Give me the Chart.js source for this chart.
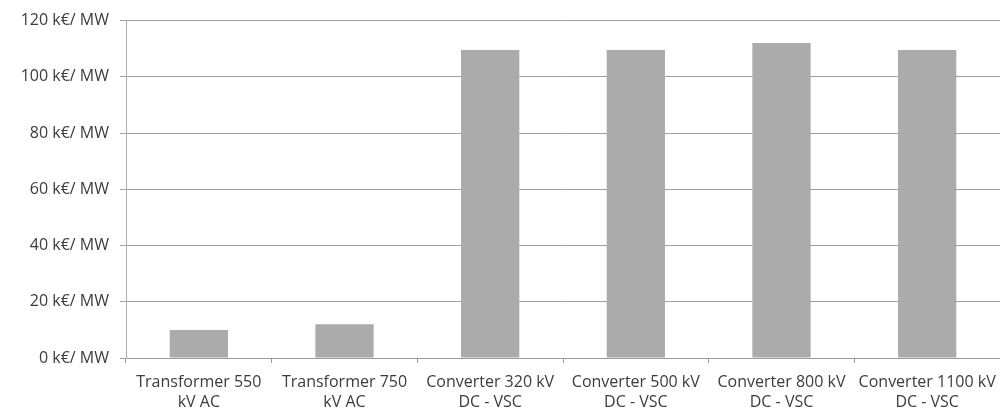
<!DOCTYPE html>
<html>
<head>
<meta charset="utf-8">
<script src="https://cdn.jsdelivr.net/npm/chart.js@4"></script>
<style>
  html, body { margin: 0; padding: 0; background: #fff; }
  #wrap { width: 1000px; height: 418px; }
</style>
</head>
<body>
<div id="wrap"><canvas id="costChart" width="1000" height="418"></canvas></div>
<script>
const categories = [
    ["Transformer 550", "kV AC"],
    ["Transformer 750", "kV AC"],
    ["Converter 320 kV", "DC - VSC"],
    ["Converter 500 kV", "DC - VSC"],
    ["Converter 800 kV", "DC - VSC"],
    ["Converter 1100 kV", "DC - VSC"]
];
const costValues = [10, 12, 109.5, 109.5, 112, 109.5];
const yTicks = [0, 20, 40, 60, 80, 100, 120];
const yUnit = " k€/ MW";

const ctx = document.getElementById("costChart").getContext("2d");
new Chart(ctx, {
    type: "bar",
    data: {
        labels: categories,
        datasets: [{
            label: "Cost",
            data: costValues,
            backgroundColor: "#ababab",
            borderWidth: 0,
            categoryPercentage: 1,
            barPercentage: 0.4
        }]
    },
    options: {
        responsive: false,
        animation: false,
        devicePixelRatio: 1,
        layout: { padding: { top: 20, right: 0, bottom: 0, left: 0 } },
        plugins: { legend: { display: false }, tooltip: { enabled: false } },
        scales: {
            x: {
                afterFit: s => { s.height = 60; s.paddingRight = 0; s.paddingLeft = 0; },
                grid: { offset: true, drawOnChartArea: false, drawTicks: true, tickLength: 5, color: "#9a9a9a" },
                border: { display: true, color: "#9a9a9a", width: 1 },
                ticks: {
                    color: "#3c3c3c",
                    font: { family: "Open Sans", size: 16, lineHeight: 1.25 },
                    maxRotation: 0,
                    autoSkip: false,
                    padding: 9
                }
            },
            y: {
                min: 0,
                max: 120,
                afterFit: s => { s.width = 126; },
                afterBuildTicks: s => { s.ticks = yTicks.map(v => ({ value: v })); },
                grid: { color: "#a0a0a0", tickLength: 6 },
                border: { display: true, color: "#b0b0b0" },
                ticks: {
                    color: "#3c3c3c",
                    font: { family: "Open Sans", size: 16 },
                    padding: 11,
                    callback: v => v + yUnit
                }
            }
        }
    }
});
</script>
</body>
</html>
